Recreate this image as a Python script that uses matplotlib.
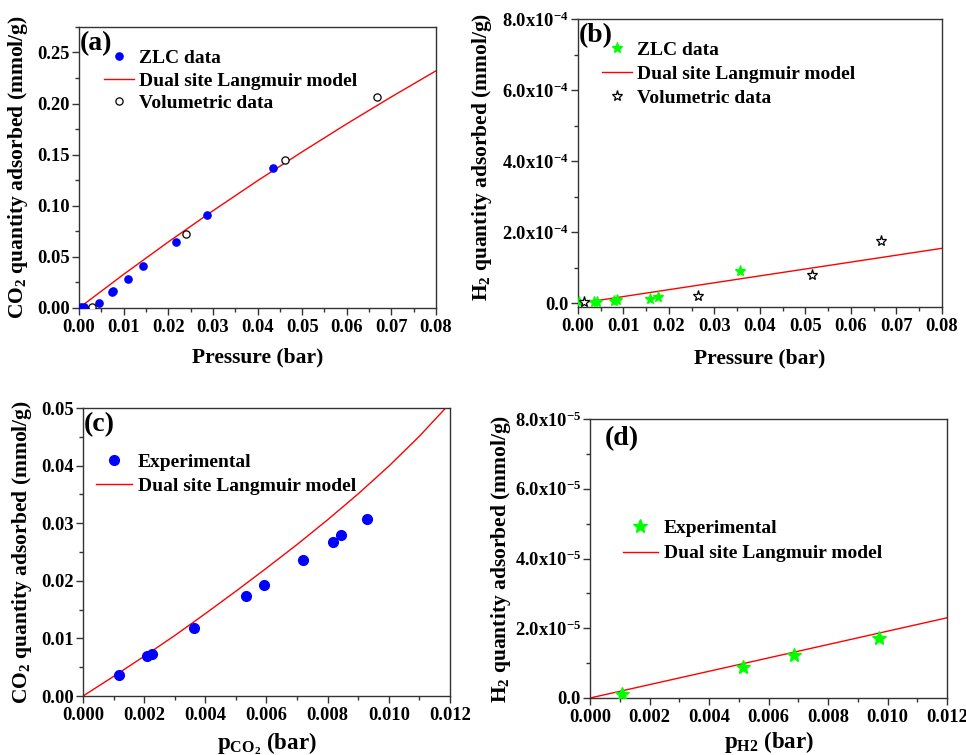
import matplotlib
matplotlib.use("Agg")
import matplotlib.pyplot as plt
from matplotlib.lines import Line2D
from matplotlib.ticker import MultipleLocator, FuncFormatter, FormatStrFormatter

plt.rcParams.update({
    "font.family": ["Liberation Serif", "DejaVu Serif"],
    "font.weight": "bold",
    "mathtext.fontset": "custom",
    "mathtext.rm": "Liberation Serif:bold",
    "mathtext.bf": "Liberation Serif:bold",
    "mathtext.it": "Liberation Serif:bold:italic",
    "mathtext.default": "bf",
    "axes.linewidth": 1.0,
})

# ---- (a) CO2 isotherm ----
a_zlc_p = [0.00045, 0.0012, 0.0044, 0.0073, 0.0076, 0.0109, 0.0144, 0.0217, 0.0287, 0.0435]
a_zlc_q = [0.0005, 0.0013, 0.0049, 0.0156, 0.0163, 0.0283, 0.0407, 0.0648, 0.0911, 0.1367]
a_vol_p = [0.0028, 0.0239, 0.0462, 0.0668]
a_vol_q = [0.0008, 0.0719, 0.1449, 0.2061]
a_model_p = [0.0, 0.01, 0.02, 0.03, 0.04, 0.05, 0.06, 0.07, 0.08]
a_model_q = [0.0, 0.0329, 0.0646, 0.0951, 0.1245, 0.1528, 0.1802, 0.2066, 0.2321]

# ---- (b) H2 isotherm ----
b_zlc_p = [0.0002, 0.0036, 0.0042, 0.0080, 0.0086, 0.0158, 0.0177, 0.0356]
b_zlc_q = [2.8e-6, 5.0e-6, 5.0e-6, 8.0e-6, 1.0e-5, 1.3e-5, 1.9e-5, 9.1e-5]
b_vol_p = [0.0014, 0.0264, 0.0514, 0.0665]
b_vol_q = [2.8e-6, 2.1e-5, 7.9e-5, 1.745e-4]
b_model_p = [0.0, 0.08]
b_model_q = [0.0, 1.55e-4]

# ---- (c) CO2 partial pressure ----
c_exp_p = [0.00117, 0.00210, 0.00226, 0.00364, 0.00532, 0.00591, 0.00721, 0.00818, 0.00844, 0.00930]
c_exp_q = [0.00371, 0.00689, 0.00730, 0.01182, 0.01732, 0.01929, 0.02364, 0.02671, 0.02798, 0.03071]
c_model_p = [0.0, 0.001, 0.002, 0.003, 0.004, 0.005, 0.006, 0.007, 0.008, 0.009, 0.010, 0.011, 0.012]
c_model_q = [0.0, 0.0034, 0.0069, 0.0105, 0.0143, 0.0182, 0.0222, 0.0263, 0.0306, 0.0351, 0.0399, 0.0451, 0.0508]

# ---- (d) H2 partial pressure ----
d_exp_p = [0.00109, 0.00514, 0.00685, 0.00972]
d_exp_q = [1.05e-6, 8.9e-6, 1.23e-5, 1.71e-5]
d_model_p = [0.0, 0.012]
d_model_q = [0.0, 2.30e-5]

BLUE = "#0000FF"
GREEN = "#00FF00"
RED = "#FF0000"
SPINE = "#333333"

TICK_FS = 13.3
LABEL_FS = 15.5
LEG_FS = 14
TAG_FS = 20

fig = plt.figure(figsize=(9.66, 7.55), dpi=100)
ax_a = fig.add_axes([0.0818, 0.5921, 0.3696, 0.3722])
ax_b = fig.add_axes([0.5983, 0.5934, 0.3768, 0.3815])
ax_c = fig.add_axes([0.0859, 0.0781, 0.3799, 0.3815])
ax_d = fig.add_axes([0.6108, 0.0755, 0.3696, 0.3695])


def style(ax, xmaj, xmin, ymaj, ymin):
    for s in ax.spines.values():
        s.set_color(SPINE)
        s.set_linewidth(1.0)
    ax.xaxis.set_major_locator(MultipleLocator(xmaj))
    ax.xaxis.set_minor_locator(MultipleLocator(xmin))
    ax.yaxis.set_major_locator(MultipleLocator(ymaj))
    ax.yaxis.set_minor_locator(MultipleLocator(ymin))
    ax.tick_params(which="both", direction="out", color=SPINE, width=1.0,
                   top=False, right=False, labelsize=TICK_FS)
    ax.tick_params(axis="x", pad=3)
    ax.tick_params(axis="y", pad=1.5)
    ax.tick_params(which="major", length=5)
    ax.tick_params(which="minor", length=3)
    for lab in ax.get_xticklabels() + ax.get_yticklabels():
        lab.set_fontweight("bold")


def sci_fmt(exp):
    def f(v, pos):
        if abs(v) < 1e-12:
            return "0.0"
        return r"$%.1f\mathrm{x}10^{%d}$" % (v / 10 ** exp, exp)
    return FuncFormatter(f)


# (a)
ax_a.plot(a_model_p, a_model_q, color=RED, lw=1.0, zorder=2)
ax_a.plot(a_zlc_p, a_zlc_q, "o", color=BLUE, ms=5.2, mec=BLUE, zorder=3)
ax_a.plot(a_vol_p, a_vol_q, "o", mfc="white", mec="black", mew=0.9, ms=5.2, zorder=4)
ax_a.set_xlim(0, 0.08)
ax_a.set_ylim(0, 0.275)
style(ax_a, 0.01, 0.005, 0.05, 0.025)
ax_a.xaxis.set_major_formatter(FormatStrFormatter("%.2f"))
ax_a.yaxis.set_major_formatter(FormatStrFormatter("%.2f"))
ax_a.set_xlabel("Pressure (bar)", fontsize=LABEL_FS, fontweight="bold")
ax_a.set_ylabel(r"CO$_2$ quantity adsorbed (mmol/g)", fontsize=LABEL_FS, fontweight="bold")
ax_a.xaxis.set_label_coords(0.5, -0.141)
ax_a.yaxis.set_label_coords(-0.137, 0.5)
ax_a.text(0.003, 0.985, "(a)", transform=ax_a.transAxes, fontsize=TAG_FS,
          fontweight="bold", va="top", ha="left")
h_a = [Line2D([], [], ls="none", marker="o", color=BLUE, ms=5.2),
       Line2D([], [], color=RED, lw=1.0),
       Line2D([], [], ls="none", marker="o", mfc="white", mec="black", mew=0.9, ms=5.2)]
ax_a.legend(h_a, ["ZLC data", "Dual site Langmuir model", "Volumetric data"],
            loc="upper left", bbox_to_anchor=(0.07, 0.92), frameon=False,
            handlelength=1.55, handletextpad=0.25,
            labelspacing=0.25, borderpad=0, borderaxespad=0,
            prop={"weight": "bold", "size": LEG_FS})

# (b)
ax_b.plot(b_model_p, b_model_q, color=RED, lw=1.0, zorder=2)
ax_b.plot(b_zlc_p, b_zlc_q, "*", color=GREEN, mec=GREEN, ms=8, zorder=3)
ax_b.plot(b_vol_p, b_vol_q, "*", mfc="white", mec="black", mew=0.9, ms=8, zorder=4)
ax_b.set_xlim(0, 0.08)
ax_b.set_ylim(-1.0e-5, 8.0e-4)
style(ax_b, 0.01, 0.005, 2e-4, 1e-4)
ax_b.xaxis.set_major_formatter(FormatStrFormatter("%.2f"))
ax_b.yaxis.set_major_formatter(sci_fmt(-4))
ax_b.set_xlabel("Pressure (bar)", fontsize=LABEL_FS, fontweight="bold")
ax_b.set_ylabel(r"H$_2$ quantity adsorbed (mmol/g)", fontsize=LABEL_FS, fontweight="bold")
ax_b.xaxis.set_label_coords(0.5, -0.143)
ax_b.yaxis.set_label_coords(-0.232, 0.52)
ax_b.text(0.002, 0.985, "(b)", transform=ax_b.transAxes, fontsize=TAG_FS,
          fontweight="bold", va="top", ha="left")
h_b = [Line2D([], [], ls="none", marker="*", color=GREEN, ms=8),
       Line2D([], [], color=RED, lw=1.0),
       Line2D([], [], ls="none", marker="*", mfc="white", mec="black", mew=0.9, ms=8)]
ax_b.legend(h_b, ["ZLC data", "Dual site Langmuir model", "Volumetric data"],
            loc="upper left", bbox_to_anchor=(0.067, 0.922), frameon=False,
            handlelength=1.55, handletextpad=0.25,
            labelspacing=0.33, borderpad=0, borderaxespad=0,
            prop={"weight": "bold", "size": LEG_FS})

# (c)
ax_c.plot(c_model_p, c_model_q, color=RED, lw=1.0, zorder=2)
ax_c.plot(c_exp_p, c_exp_q, "o", color=BLUE, mec=BLUE, ms=7, zorder=3)
ax_c.set_xlim(0, 0.012)
ax_c.set_ylim(0, 0.05)
style(ax_c, 0.002, 0.001, 0.01, 0.005)
ax_c.xaxis.set_major_formatter(FormatStrFormatter("%.3f"))
ax_c.yaxis.set_major_formatter(FormatStrFormatter("%.2f"))
ax_c.set_xlabel(r"p$_{CO_2}$ (bar)", fontsize=LABEL_FS + 1, fontweight="bold")
ax_c.set_ylabel(r"CO$_2$ quantity adsorbed (mmol/g)", fontsize=LABEL_FS, fontweight="bold")
ax_c.xaxis.set_label_coords(0.5, -0.118)
ax_c.yaxis.set_label_coords(-0.134, 0.5)
ax_c.text(0.002, 0.985, "(c)", transform=ax_c.transAxes, fontsize=TAG_FS,
          fontweight="bold", va="top", ha="left")
h_c = [Line2D([], [], ls="none", marker="o", color=BLUE, ms=7),
       Line2D([], [], color=RED, lw=1.0)]
ax_c.legend(h_c, ["Experimental", "Dual site Langmuir model"],
            loc="upper left", bbox_to_anchor=(0.035, 0.843), frameon=False,
            handlelength=1.85, handletextpad=0.3,
            labelspacing=0.35, borderpad=0, borderaxespad=0,
            prop={"weight": "bold", "size": LEG_FS})

# (d)
ax_d.plot(d_model_p, d_model_q, color=RED, lw=1.0, zorder=2)
ax_d.plot(d_exp_p, d_exp_q, "*", color=GREEN, mec=GREEN, ms=10, zorder=3)
ax_d.set_xlim(0, 0.012)
ax_d.set_ylim(0, 8.0e-5)
style(ax_d, 0.002, 0.001, 2e-5, 1e-5)
ax_d.xaxis.set_major_formatter(FormatStrFormatter("%.3f"))
ax_d.yaxis.set_major_formatter(sci_fmt(-5))
ax_d.set_xlabel(r"p$_{H2}$ (bar)", fontsize=LABEL_FS + 1, fontweight="bold")
ax_d.set_ylabel(r"H$_2$ quantity adsorbed (mmol/g)", fontsize=LABEL_FS, fontweight="bold")
ax_d.xaxis.set_label_coords(0.5, -0.11)
ax_d.yaxis.set_label_coords(-0.216, 0.5)
ax_d.text(0.042, 0.975, "(d)", transform=ax_d.transAxes, fontsize=TAG_FS,
          fontweight="bold", va="top", ha="left")
h_d = [Line2D([], [], ls="none", marker="*", color=GREEN, ms=10),
       Line2D([], [], color=RED, lw=1.0)]
ax_d.legend(h_d, ["Experimental", "Dual site Langmuir model"],
            loc="upper left", bbox_to_anchor=(0.092, 0.64), frameon=False,
            handlelength=1.8, handletextpad=0.3,
            labelspacing=0.4, borderpad=0, borderaxespad=0,
            prop={"weight": "bold", "size": LEG_FS})

fig.savefig("out.png", dpi=100)
